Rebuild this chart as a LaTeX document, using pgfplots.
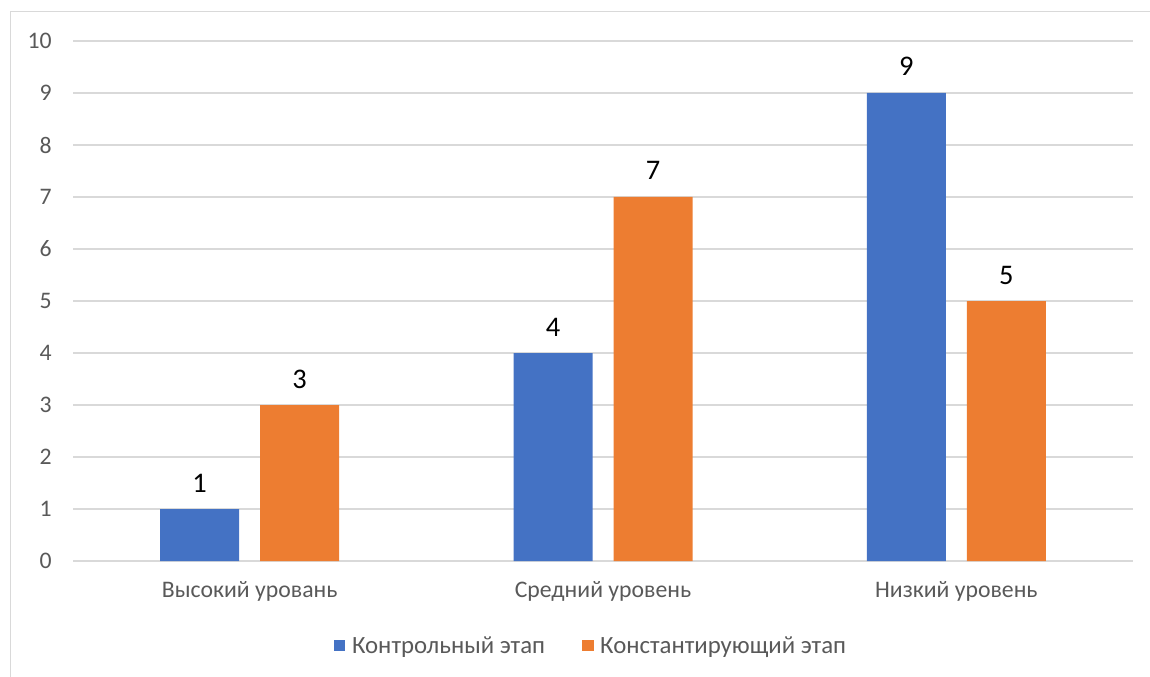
\documentclass[border=0pt]{standalone}
\usepackage{pgfplots}
\pgfplotsset{compat=1.18}
\usepackage{fontspec}
\setmainfont{Carlito}

\definecolor{xlblue}{HTML}{4472C4}
\definecolor{xlorange}{HTML}{ED7D31}
\definecolor{xlgrid}{HTML}{D9D9D9}
\definecolor{xltext}{HTML}{595959}

\begin{document}
\begin{tikzpicture}
% 1 px of the reference = 0.75pt
\useasboundingbox (0,0) rectangle (862.5pt,-507.75pt);
\draw[xlgrid, line width=0.75pt] (7.5pt,-507.75pt) -- (7.5pt,-9pt) -- (862.5pt,-9pt);

\begin{axis}[
  at={(54.75pt,-420.75pt)}, anchor=south west,
  scale only axis,
  width=795pt, height=390pt,
  ybar=15.75pt, bar width=59.25pt,
  xmin=-0.5, xmax=2.5,
  ymin=0, ymax=10,
  xtick={0,1,2},
  xticklabels={Высокий уровань, Средний уровень, Низкий уровень},
  ytick={0,1,...,10},
  ymajorgrids,
  grid style={xlgrid, line width=1pt},
  axis line style={draw=none},
  major tick length=0pt,
  tick style={draw=none},
  /pgf/number format/assume math mode=true,
  ticklabel style={font=\fontsize{17.8}{21}\selectfont, text=xltext},
  yticklabel style={anchor=east, xshift=-12.5pt},
  xticklabel style={anchor=base, yshift=-27pt},
  nodes near coords,
  nodes near coords style={font=\fontsize{21.3}{25}\selectfont, text=black, anchor=base, yshift=12.75pt},
  legend columns=-1,
  legend style={
    at={(0.4877,-0.163)}, anchor=center,
    draw=none, fill=none,
    font=\fontsize{18.6}{22}\selectfont, text=xltext,
    nodes={inner sep=0pt},
    /tikz/every odd column/.append style={column sep=5pt},
    /tikz/every even column/.append style={column sep=27.75pt},
  },
  legend image code/.code={\fill[#1] (0pt,-4.3pt) rectangle (8.6pt,4.3pt);},
]
\addplot[fill=xlblue, draw=none] coordinates {(0,1) (1,4) (2,9)};
\addplot[fill=xlorange, draw=none] coordinates {(0,3) (1,7) (2,5)};
\legend{Контрольный этап, Константирующий этап}
\end{axis}
\end{tikzpicture}
\end{document}
